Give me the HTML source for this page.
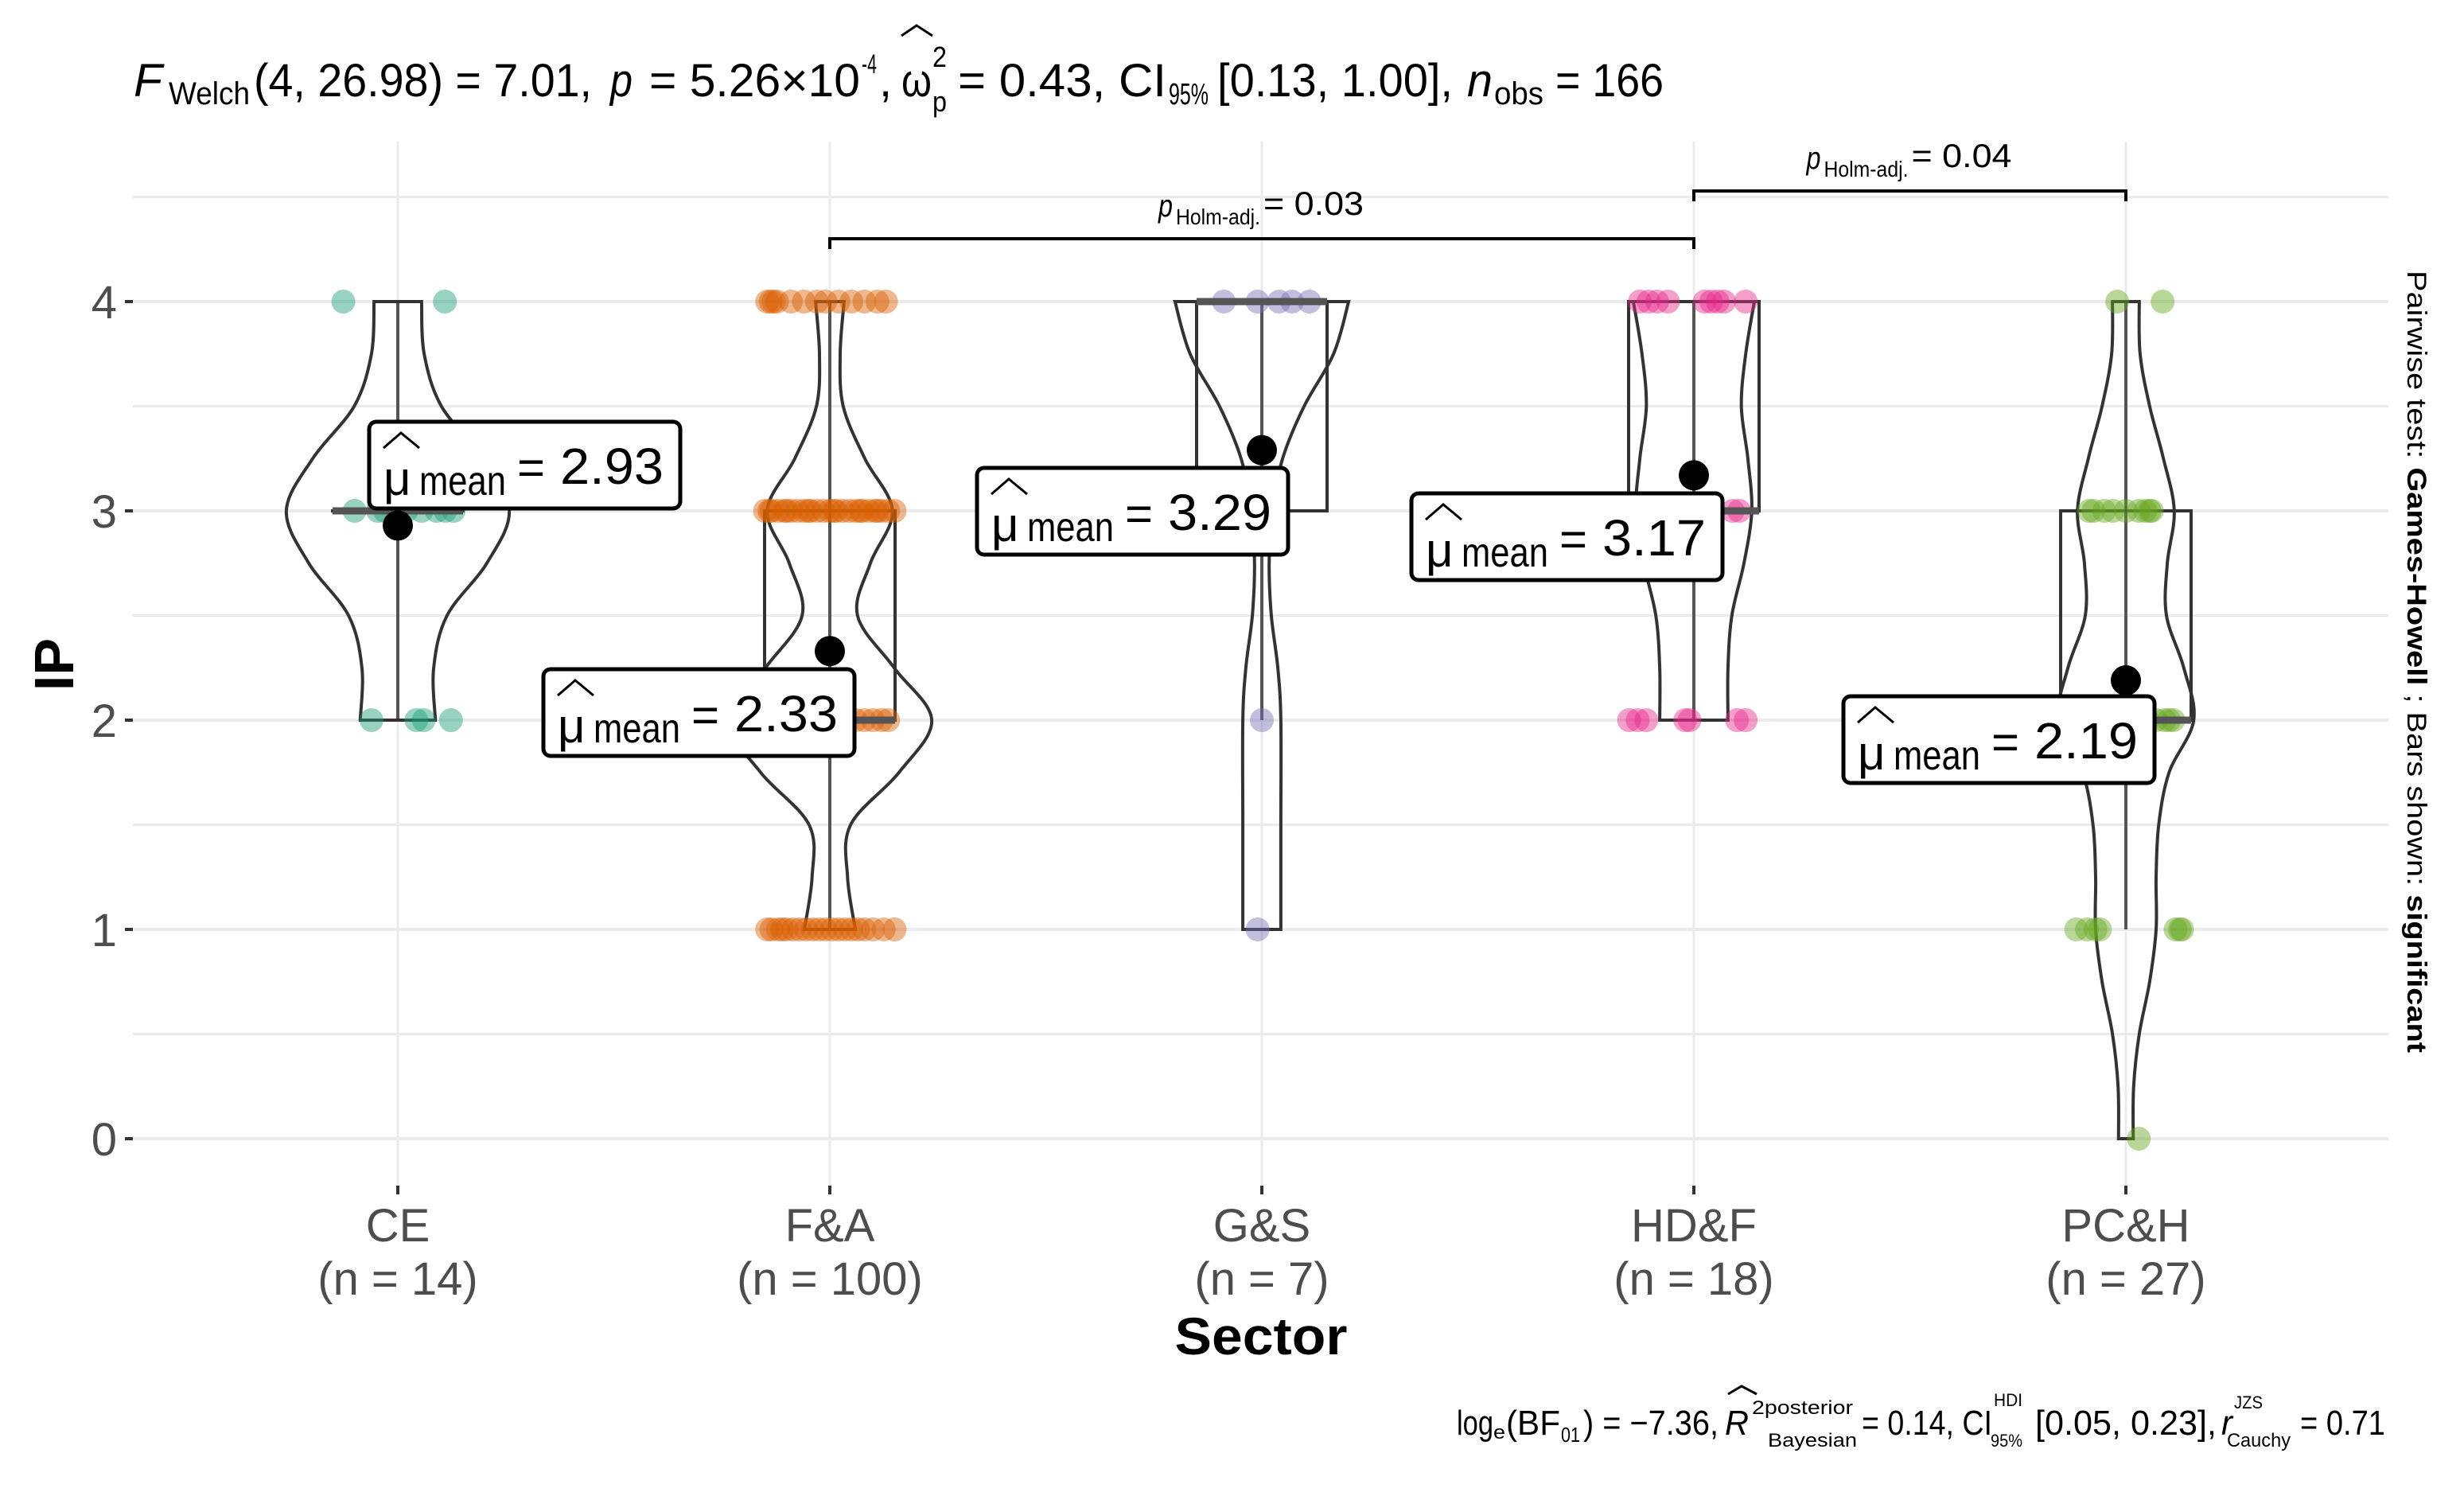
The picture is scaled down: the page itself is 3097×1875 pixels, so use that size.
<!DOCTYPE html>
<html><head><meta charset="utf-8"><title>IP by Sector</title>
<style>html,body{margin:0;padding:0;background:#fff}svg{display:block}text{font-family:"Liberation Sans",sans-serif}</style>
</head><body>
<svg id="chart" width="3097" height="1875" viewBox="0 0 3097 1875" xmlns="http://www.w3.org/2000/svg">
<rect x="0" y="0" width="3097" height="1875" fill="#fff"/>
<g id="grid"></g>
<g id="marks"></g>
<g id="labels"></g>
<g id="axes"></g>

<g fill="#000">
 <text x="168" y="121" font-size="58" font-style="italic" textLength="36" lengthAdjust="spacingAndGlyphs">F</text>
 <text x="212" y="131" font-size="40" textLength="102" lengthAdjust="spacingAndGlyphs">Welch</text>
 <text x="319" y="121" font-size="58" textLength="425" lengthAdjust="spacingAndGlyphs">(4, 26.98) = 7.01,</text>
 <text x="767" y="121" font-size="58" font-style="italic" textLength="28" lengthAdjust="spacingAndGlyphs">p</text>
 <text x="816" y="121" font-size="58" textLength="265" lengthAdjust="spacingAndGlyphs">= 5.26×10</text>
 <text x="1083" y="92" font-size="34" textLength="19" lengthAdjust="spacingAndGlyphs">-4</text>
 <text x="1105" y="121" font-size="58">,</text>
 <text x="1133" y="121" font-size="58" textLength="38" lengthAdjust="spacingAndGlyphs">ω</text>
 <path d="M1133 45 L1152 32 L1172 45" fill="none" stroke="#000" stroke-width="3"/>
 <text x="1172" y="84" font-size="36" textLength="18" lengthAdjust="spacingAndGlyphs">2</text>
 <text x="1172" y="140" font-size="36" textLength="18" lengthAdjust="spacingAndGlyphs">p</text>
 <text x="1204" y="121" font-size="58" textLength="262" lengthAdjust="spacingAndGlyphs">= 0.43, CI</text>
 <text x="1469" y="131" font-size="38" textLength="50" lengthAdjust="spacingAndGlyphs">95%</text>
 <text x="1530" y="121" font-size="58" textLength="296" lengthAdjust="spacingAndGlyphs">[0.13, 1.00],</text>
 <text x="1844" y="121" font-size="58" font-style="italic" textLength="32" lengthAdjust="spacingAndGlyphs">n</text>
 <text x="1878" y="131" font-size="40" textLength="62" lengthAdjust="spacingAndGlyphs">obs</text>
 <text x="1955" y="121" font-size="58" textLength="136" lengthAdjust="spacingAndGlyphs">= 166</text>
</g>

<g fill="#000">
 <text x="1831" y="1803" font-size="44" textLength="46" lengthAdjust="spacingAndGlyphs">log</text>
 <text x="1877" y="1808" font-size="24" textLength="15" lengthAdjust="spacingAndGlyphs">e</text>
 <text x="1893" y="1803" font-size="44" textLength="68" lengthAdjust="spacingAndGlyphs">(BF</text>
 <text x="1962" y="1812" font-size="26" textLength="24" lengthAdjust="spacingAndGlyphs">01</text>
 <text x="1990" y="1803" font-size="44" textLength="170" lengthAdjust="spacingAndGlyphs">) = −7.36,</text>
 <text x="2168" y="1803" font-size="44" font-style="italic" textLength="30" lengthAdjust="spacingAndGlyphs">R</text>
 <path d="M2172 1752 L2189 1742 L2208 1752" fill="none" stroke="#000" stroke-width="3"/>
 <text x="2202" y="1777" font-size="24" textLength="127" lengthAdjust="spacingAndGlyphs">2posterior</text>
 <text x="2222" y="1818" font-size="24" textLength="112" lengthAdjust="spacingAndGlyphs">Bayesian</text>
 <text x="2340" y="1803" font-size="44" textLength="164" lengthAdjust="spacingAndGlyphs">= 0.14, CI</text>
 <text x="2506" y="1767" font-size="22" textLength="36" lengthAdjust="spacingAndGlyphs">HDI</text>
 <text x="2502" y="1818" font-size="22" textLength="40" lengthAdjust="spacingAndGlyphs">95%</text>
 <text x="2558" y="1803" font-size="44" textLength="228" lengthAdjust="spacingAndGlyphs">[0.05, 0.23],</text>
 <text x="2792" y="1803" font-size="44" font-style="italic" textLength="14" lengthAdjust="spacingAndGlyphs">r</text>
 <text x="2808" y="1770" font-size="22" textLength="36" lengthAdjust="spacingAndGlyphs">JZS</text>
 <text x="2799" y="1818" font-size="24" textLength="80" lengthAdjust="spacingAndGlyphs">Cauchy</text>
 <text x="2891" y="1803" font-size="44" textLength="107" lengthAdjust="spacingAndGlyphs">= 0.71</text>
</g>

<text transform="translate(3026,340) rotate(90)" x="0" y="0" font-size="34" textLength="983" lengthAdjust="spacingAndGlyphs">Pairwise test: <tspan font-weight="bold">Games-Howell</tspan> ; Bars shown: <tspan font-weight="bold">significant</tspan></text>

<text x="1585" y="1702" font-size="66" font-weight="bold" text-anchor="middle" textLength="217" lengthAdjust="spacingAndGlyphs">Sector</text>
<text transform="translate(92,835) rotate(-90)" x="0" y="0" font-size="70" font-weight="bold" text-anchor="middle">IP</text>
</svg>
<script>
const categories = ["CE","F&A","G&S","HD&F","PC&H"];
const counts = [14,100,7,18,27];
const means = [2.93,2.33,3.29,3.17,2.19];
const meanText = ["2.93","2.33","3.29","3.17","2.19"];
const colors = ["#1B9E77","#D95F02","#7570B3","#E7298A","#66A61E"];
const yTicks = [0,1,2,3,4];
const yTickLabels = ["0","1","2","3","4"];
// box stats: [lowWhisker, q1, median, q3, highWhisker]
const boxCE = [2,3,3,3,4];
const boxFA = [1,2,2,3,4];
const boxGS = [2,3,4,4,4];
const boxHD = [2,3,3,4,4];
const boxPC = [1,2,2,3,4];
// violin profiles: [value, half-width in category units]
const violinCE = [[2,.087],[2.25,.083],[2.5,.114],[2.75,.206],[3,.258],[3.25,.197],[3.5,.101],[3.75,.061],[4,.055]];
const violinFA = [[1,.059],[1.25,.041],[1.5,.048],[1.75,.16],[2,.236],[2.25,.149],[2.5,.064],[2.75,.094],[3,.145],[3.25,.081],[3.5,.031],[3.75,.024],[4,.033]];
const violinGS = [[1,.044],[1.5,.044],[2,.044],[2.25,.037],[2.5,.022],[2.75,.017],[3,.024],[3.25,.048],[3.5,.098],[3.75,.166],[4,.201]];
const violinHD = [[2,.079],[2.25,.079],[2.5,.088],[2.75,.116],[3,.134],[3.25,.125],[3.5,.11],[3.75,.12],[4,.14]];
const violinPC = [[0,.017],[0.25,.018],[0.5,.031],[0.75,.055],[1,.07],[1.25,.07],[1.5,.076],[1.75,.1],[2,.157],[2.25,.134],[2.5,.094],[2.75,.096],[3,.112],[3.25,.087],[3.5,.055],[3.75,.033],[4,.031]];
// observations: [value, jitter in category units]
const pointsCE = [[4,-.126],[4,.109],[3,-.1],[3,-.046],[3,-.03],[3,.055],[3,.129],[3,.09],[3,0.02],[3,.11],[2,-.061],[2,.043],[2,.123],[2,.06]];
const pointsFA = [[4,-.145],[4,-.137],[4,-.13],[4,-.122],[4,-.09],[4,-.06],[4,-.03],[4,-.01],[4,.02],[4,.05],[4,.08],[4,.11],[4,.13],
 [3,-.15],[3,-.135],[3,-.12],[3,-.105],[3,-.09],[3,-.075],[3,-.06],[3,-.045],[3,-.03],[3,-.015],[3,0],[3,.015],[3,.03],[3,.045],[3,.06],[3,.075],[3,.09],[3,.105],[3,.12],[3,.135],[3,.15],[3,-.14],[3,-.1],[3,-.05],[3,.01],[3,.07],[3,.11],
 [2,.06],[2,.08],[2,.1],[2,.12],[2,.135],
 [1,-.145],[1,-.135],[1,-.12],[1,-.11],[1,-.1],[1,-.085],[1,-.07],[1,-.055],[1,-.04],[1,-.025],[1,-.01],[1,.005],[1,.02],[1,.035],[1,.05],[1,.065],[1,.08],[1,.1],[1,.125],[1,.15]];
const pointsGS = [[4,-.088],[4,-.01],[4,.04],[4,.07],[4,.11],[2,0],[1,-.01]];
const pointsHD = [[4,-.125],[4,-.105],[4,-.085],[4,-.06],[4,.025],[4,.04],[4,.055],[4,.07],[4,.12],[3,.09],[3,.105],[2,-.15],[2,-.13],[2,-.11],[2,-.01],[2,.1],[2,.12],[2,-.02]];
const pointsPC = [[4,-.02],[4,.085],[3,-.085],[3,-.075],[3,-.05],[3,-.03],[3,0.0],[3,.03],[3,.045],[3,.055],[2,.09],[2,.1],[2,.11],[2,-.0],[2,.03],[2,.05],[2,-.05],[1,-.115],[1,-.09],[1,-.07],[1,-.06],[1,.115],[1,.125],[1,.13],[0,.03],[3,.06],[2,.07]];
// comparisons
const compA = [1,3];
const compB = [3,4];
const compP = ["0.03","0.04"];

const boxes=[boxCE,boxFA,boxGS,boxHD,boxPC];
const violins=[violinCE,violinFA,violinGS,violinHD,violinPC];
const points=[pointsCE,pointsFA,pointsGS,pointsHD,pointsPC];
const labelPos=[[464,530],[683,841],[1228,588],[1774,620],[2317,875]];
const NS="http://www.w3.org/2000/svg";
const X0=500, BAND=543, Y0=1431, UNIT=263;
const xs=i=>X0+BAND*i;
const ys=v=>Y0-UNIT*v;
function mk(tag,attrs,parent){const e=document.createElementNS(NS,tag);for(const k in attrs)e.setAttribute(k,attrs[k]);parent.appendChild(e);return e;}
const grid=document.getElementById('grid'),marks=document.getElementById('marks'),labs=document.getElementById('labels'),axes=document.getElementById('axes');
for(let v=0;v<=4.5;v+=0.5){
 const l=mk('line',{x1:167,x2:3002,y1:ys(v),y2:ys(v),stroke:'#ebebeb','stroke-width':Number.isInteger(v)?4:3},grid);
 
 
}
categories.forEach((c,i)=>{
 const l=mk('line',{x1:xs(i),x2:xs(i),y1:178,y2:1490,stroke:'#ebebeb','stroke-width':3},grid);
 
 
});
yTicks.forEach((v,k)=>{
 const t=mk('line',{x1:157,x2:167,y1:ys(v),y2:ys(v),stroke:'#333','stroke-width':4},axes);
 
 
 const tx=mk('text',{x:147,y:ys(v)+21,'font-size':58,'text-anchor':'end',fill:'#4d4d4d'},axes);
 tx.textContent=yTickLabels[k];
 
 
});
categories.forEach((c,i)=>{
 const t=mk('line',{x1:xs(i),x2:xs(i),y1:1490,y2:1501,stroke:'#333','stroke-width':4},axes);
 
 
 const a=mk('text',{x:xs(i),y:1560,'font-size':58,'text-anchor':'middle',fill:'#4d4d4d'},axes);
 a.textContent=c;
 
 
 const b=mk('text',{x:xs(i),y:1627,'font-size':58,'text-anchor':'middle',fill:'#4d4d4d'},axes);
 b.textContent='(n = '+counts[i]+')';
 
 
});
function smoothSeg(pts){
 let d='';
 for(let i=0;i<pts.length-1;i++){
  const p0=pts[Math.max(i-1,0)],p1=pts[i],p2=pts[i+1],p3=pts[Math.min(i+2,pts.length-1)];
  const c1=[p1[0]+(p2[0]-p0[0])/6,p1[1]+(p2[1]-p0[1])/6],c2=[p2[0]-(p3[0]-p1[0])/6,p2[1]-(p3[1]-p1[1])/6];
  d+=' C'+c1[0].toFixed(1)+' '+c1[1].toFixed(1)+' '+c2[0].toFixed(1)+' '+c2[1].toFixed(1)+' '+p2[0].toFixed(1)+' '+p2[1].toFixed(1);
 }
 return d;
}
categories.forEach((c,i)=>{
 const cx=xs(i), g=mk('g',{},marks);
 
 
 const bx=boxes[i], hw=82;
 const wh=mk('line',{x1:cx,x2:cx,y1:ys(bx[0]),y2:ys(bx[4]),stroke:'#555','stroke-width':4},g);
 
 
 const r=mk('rect',{x:cx-hw,y:ys(bx[3]),width:2*hw,height:Math.max(ys(bx[1])-ys(bx[3]),0.1),fill:'none',stroke:'#333','stroke-width':4},g);
 
 
 const vp=violins[i];
 const right=vp.map(p=>[cx+p[1]*BAND,ys(p[0])]);
 const left=vp.slice().reverse().map(p=>[cx-p[1]*BAND,ys(p[0])]);
 const d='M'+right[0][0]+' '+right[0][1]+smoothSeg(right)+' L'+left[0][0]+' '+left[0][1]+smoothSeg(left)+' Z';
 const vio=mk('path',{d:d,fill:'none',stroke:'#333','stroke-width':4},g);
 
 
 points[i].forEach(p=>{
  const ci=mk('circle',{cx:cx+p[1]*BAND,cy:ys(p[0]),r:15,fill:colors[i],'fill-opacity':0.45},g);
  
  
 });
 const md=mk('line',{x1:cx-hw,x2:cx+hw,y1:ys(bx[2]),y2:ys(bx[2]),stroke:'#555','stroke-width':9},g);
 
 
 const mn=mk('ellipse',{cx:cx,cy:ys(means[i]),rx:19,ry:19,fill:'#000'},g);
 
 
 const [L,T]=labelPos[i], lg=mk('g',{},labs);
 
 
 mk('rect',{x:L,y:T,width:391,height:109,rx:9,fill:'#fff',stroke:'#000','stroke-width':5},lg);
 mk('path',{d:`M${L+18} ${T+33} L${L+40} ${T+14} L${L+63} ${T+33}`,fill:'none',stroke:'#000','stroke-width':3},lg);
 const mu=mk('text',{x:L+18,y:T+92,'font-size':60,fill:'#000'},lg); mu.textContent='μ';
 const me=mk('text',{x:L+63,y:T+92,'font-size':52,fill:'#000',textLength:109,lengthAdjust:'spacingAndGlyphs'},lg); me.textContent='mean';
 const eq=mk('text',{x:L+186,y:T+78,'font-size':60,fill:'#000'},lg); eq.textContent='=';
 const nv=mk('text',{x:L+240,y:T+78,'font-size':64,fill:'#000',textLength:130,lengthAdjust:'spacingAndGlyphs'},lg); nv.textContent=meanText[i];
});
const bY=[300,240];
compA.forEach((a,k)=>{
 const b=compB[k], y=bY[k], g=mk('g',{},marks);
 
 
 mk('path',{d:`M${xs(a)} ${y+13} L${xs(a)} ${y} L${xs(b)} ${y} L${xs(b)} ${y+13}`,fill:'none',stroke:'#000','stroke-width':4},g);
 const mid=(xs(a)+xs(b))/2, tx=mid-130;
 const p=mk('text',{x:tx,y:y-28,'font-size':40,'font-style':'italic',fill:'#000',textLength:18,lengthAdjust:'spacingAndGlyphs'},g); p.textContent='p';
 const s=mk('text',{x:tx+22,y:y-18,'font-size':28,fill:'#000',textLength:106,lengthAdjust:'spacingAndGlyphs'},g); s.textContent='Holm-adj.';
 const v=mk('text',{x:tx+132,y:y-30,'font-size':42,fill:'#000',textLength:126,lengthAdjust:'spacingAndGlyphs'},g); v.textContent='= '+compP[k];
});
</script>
</body></html>
